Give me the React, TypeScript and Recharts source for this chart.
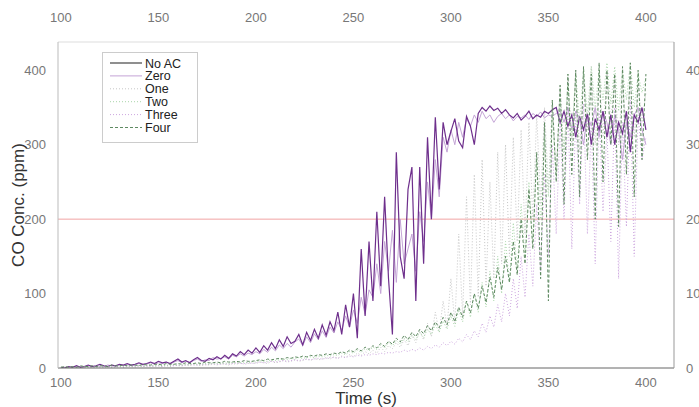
import React from 'react';
import { LineChart, Line, XAxis, YAxis, ReferenceLine, Legend } from 'recharts';

// sample times, 2 s apart, 100..400 s
const TIME = Array.from({ length: 151 }, (_, i) => 100 + 2 * i);
const X_TICKS = [100, 150, 200, 250, 300, 350, 400];
const Y_TICKS = [0, 100, 200, 300, 400];

const NO_AC = [
  1, 0, 2, 1, 3, 1, 2, 4, 2, 3, 5, 3, 2, 4, 3, 5, 4, 6, 4, 5, 7, 5, 6, 8, 6,
  9, 7, 8, 6, 9, 12, 8, 10, 7, 11, 14, 10, 9, 13, 11, 15, 12, 17, 13, 19, 16, 22, 18, 24, 20,
  27, 21, 30, 24, 34, 26, 38, 29, 42, 33, 36, 45, 31, 48, 37, 52, 40, 58, 44, 62,
  50, 75, 45, 85, 55, 100, 40, 160, 70, 170,
  90, 210, 110, 230, 120, 45, 290, 150, 120, 240, 270, 90, 270, 140, 310, 200, 337, 240, 330, 300,
  318, 335, 305, 296, 338, 325, 300, 342, 350, 345, 352, 346, 349, 342, 347, 340, 336, 342, 333, 338, 345, 335, 340, 337, 345, 342, 347, 350,
  330, 345, 325, 340, 310, 338, 320, 342, 300, 335, 320, 345, 310, 340, 300, 330, 315, 345, 290, 340, 330, 350, 320,
];

const ZERO = [
  0, 1, 0, 2, 1, 2, 1, 3, 2, 2, 3, 2, 4, 3, 2, 4, 3, 5, 3, 4, 6, 4, 5, 7, 5,
  7, 6, 8, 5, 8, 10, 7, 9, 8, 10, 12, 9, 11, 10, 14, 12, 13, 15, 12, 17, 15, 19, 16, 20, 18,
  22, 19, 25, 21, 28, 23, 31, 26, 33, 28, 35, 39, 30, 42, 34, 46, 38, 50, 41, 55,
  47, 62, 51, 70, 55, 78, 60, 95, 72, 105,
  95, 140, 100, 170, 130, 185, 115, 200, 140, 160, 180, 130, 210, 170, 250, 200, 280, 230, 310, 290,
  320, 300, 330, 310, 335, 325, 340, 330, 345, 335, 340, 330, 338, 342, 335, 340, 332, 338, 336, 340, 334, 342, 338, 344, 336, 340, 338, 342,
  345, 330, 350, 320, 345, 335, 300, 340, 325, 350, 310, 345, 330, 300, 340, 320, 280, 330, 310, 340, 350, 320, 300,
];

const ONE = [
  0, 0, 1, 0, 1, 0, 1, 1, 0, 1, 2, 1, 1, 2, 1, 2, 1, 2, 2, 1, 3, 2, 2, 3, 2,
  3, 2, 3, 2, 4, 3, 3, 4, 3, 5, 4, 3, 5, 4, 5, 4, 6, 5, 4, 6, 5, 7, 5, 6, 7,
  6, 8, 7, 6, 9, 7, 8, 10, 8, 9, 11, 9, 10, 12, 10, 13, 11, 12, 14, 12,
  15, 13, 16, 14, 18, 15, 20, 17, 22, 19,
  24, 20, 28, 22, 30, 26, 34, 28, 38, 30, 44, 34, 50, 38, 60, 42, 75, 48, 90, 55,
  120, 60, 180, 70, 230, 85, 260, 95, 280, 110, 250, 120, 290, 140, 300, 150, 310, 170, 320, 180, 330, 200, 340, 220, 350, 240, 360, 260,
  380, 280, 390, 300, 400, 290, 395, 320, 405, 300, 400, 310, 395, 330, 390, 300, 385, 320, 390, 310, 380, 330, 370,
];

const TWO = [
  1, 0, 1, 1, 0, 1, 2, 1, 1, 2, 1, 2, 2, 1, 3, 2, 2, 3, 2, 3, 3, 2, 4, 3, 3,
  4, 3, 4, 3, 5, 4, 4, 5, 4, 6, 5, 5, 6, 5, 7, 6, 6, 7, 6, 8, 7, 7, 8, 7, 9,
  8, 10, 9, 9, 11, 10, 11, 12, 11, 13, 12, 14, 13, 14, 15, 14, 16, 15, 17, 16,
  18, 17, 20, 18, 22, 20, 24, 21, 26, 23,
  28, 25, 31, 27, 34, 30, 37, 32, 40, 35, 44, 38, 48, 41, 52, 45, 58, 48, 63, 52,
  70, 56, 78, 62, 90, 68, 100, 75, 115, 82, 130, 90, 150, 100, 170, 115, 195, 130, 220, 150, 250, 170, 280, 200, 310, 230, 340, 260,
  360, 290, 380, 310, 395, 330, 400, 340, 405, 350, 400, 360, 410, 355, 405, 345, 400, 360, 410, 350, 395, 370, 390,
];

const THREE = [
  0, 1, 0, 1, 1, 0, 1, 2, 1, 1, 2, 1, 2, 1, 2, 2, 1, 3, 2, 2, 3, 2, 3, 2, 3,
  3, 2, 4, 3, 3, 4, 3, 4, 5, 4, 4, 5, 4, 5, 6, 5, 5, 6, 5, 6, 7, 6, 6, 7, 6,
  7, 8, 7, 8, 9, 8, 9, 10, 9, 10, 11, 10, 11, 12, 11, 12, 13, 12, 13, 14,
  14, 13, 15, 14, 16, 15, 17, 16, 18, 17,
  19, 18, 20, 19, 21, 20, 22, 21, 24, 22, 25, 23, 27, 24, 29, 26, 31, 28, 34, 30,
  36, 32, 40, 35, 45, 38, 50, 42, 60, 48, 70, 55, 85, 62, 100, 70, 120, 80, 150, 95, 180, 110, 220, 130, 260, 150, 300, 180,
  330, 200, 350, 160, 340, 220, 355, 180, 330, 140, 345, 210, 320, 170, 350, 120, 330, 190, 360, 150, 340, 280, 310,
];

const FOUR = [
  1, 2, 1, 2, 1, 3, 2, 2, 3, 2, 3, 3, 2, 4, 3, 3, 4, 3, 4, 4, 3, 5, 4, 4, 5,
  5, 4, 6, 5, 5, 6, 5, 7, 6, 6, 7, 6, 8, 7, 7, 8, 7, 9, 8, 8, 9, 8, 10, 9, 9,
  10, 11, 10, 12, 11, 12, 13, 12, 14, 13, 15, 14, 16, 15, 17, 16, 18, 17, 19, 18,
  20, 19, 22, 20, 24, 22, 26, 23, 28, 25,
  30, 27, 33, 29, 36, 32, 40, 35, 44, 38, 48, 42, 52, 46, 57, 50, 62, 54, 68, 58,
  75, 62, 82, 68, 90, 74, 100, 80, 110, 88, 122, 95, 135, 105, 150, 115, 170, 125, 200, 140, 240, 160, 290, 120, 330, 90, 360, 250,
  380, 220, 395, 260, 400, 230, 405, 280, 395, 200, 410, 250, 400, 300, 395, 190, 405, 260, 410, 230, 400, 280, 395,
];

const SERIES = [
  { key: 'noAc', name: 'No AC', color: '#6e2f8c', dash: undefined, width: 1.2 },
  { key: 'zero', name: 'Zero', color: '#c4a4d6', dash: undefined, width: 1 },
  { key: 'one', name: 'One', color: '#c6c6c6', dash: '1 2', width: 1 },
  { key: 'two', name: 'Two', color: '#a9d6a9', dash: '1 2', width: 1 },
  { key: 'three', name: 'Three', color: '#cda6df', dash: '1 2', width: 1 },
  { key: 'four', name: 'Four', color: '#5f8a62', dash: '3 2', width: 1 },
];

const data = TIME.map((t, i) => ({
  t,
  noAc: NO_AC[i],
  zero: ZERO[i],
  one: ONE[i],
  two: TWO[i],
  three: THREE[i],
  four: FOUR[i],
}));

// draw order (light ones underneath)
const DRAW_ORDER = ['one', 'three', 'zero', 'noAc', 'two', 'four'];

const FONT = '"Liberation Sans", Arial, sans-serif';
const tickStyle = { fill: '#777', fontSize: 13, fontFamily: FONT };

function LegendBox() {
  return (
    <svg width={96} height={91}>
      <rect x={0.5} y={0.5} width={95} height={90} fill="#fff" stroke="#ccc" />
      {SERIES.map((s, i) => {
        const y = 11 + i * 12.9;
        return (
          <g key={s.key}>
            <line x1={8} x2={40} y1={y} y2={y} stroke={s.key === 'noAc' ? '#444' : s.color}
              strokeWidth={s.width} strokeDasharray={s.dash} />
            <text x={43} y={y + 4.5} fontSize={12.5} fontFamily={FONT} fill="#222">{s.name}</text>
          </g>
        );
      })}
    </svg>
  );
}

export default function App() {
  return (
    <div style={{ position: 'absolute', left: 0, top: 0, width: 699, height: 407, overflow: 'hidden', background: '#fff' }}>
      <LineChart width={730} height={407} data={data} margin={{ top: 0, right: 0, bottom: 0, left: 0 }}>
        <XAxis
          xAxisId="bottom"
          dataKey="t"
          type="number"
          domain={[98.5, 414.4]}
          ticks={X_TICKS}
          allowDataOverflow
          height={39}
          tickLine={false}
          tickMargin={4}
          axisLine={{ stroke: '#666' }}
          tick={tickStyle}
          label={{ value: 'Time (s)', position: 'insideBottom', offset: 3, style: { fill: '#333', fontSize: 17, fontFamily: FONT } }}
        />
        <XAxis
          xAxisId="top"
          orientation="top"
          dataKey="t"
          type="number"
          domain={[98.5, 414.4]}
          ticks={X_TICKS}
          allowDataOverflow
          height={42}
          tickLine={false}
          tickMargin={14}
          axisLine={{ stroke: '#ddd' }}
          tick={tickStyle}
        />
        <YAxis
          yAxisId="left"
          domain={[0, 438]}
          ticks={Y_TICKS}
          allowDataOverflow
          width={58}
          tickLine={false}
          tickMargin={6}
          axisLine={{ stroke: '#bbb' }}
          tick={tickStyle}
          label={{ value: 'CO Conc. (ppm)', angle: -90, position: 'insideLeft', offset: 18, style: { fill: '#333', fontSize: 17, fontFamily: FONT, textAnchor: 'middle' } }}
        />
        <YAxis
          yAxisId="right"
          orientation="right"
          domain={[0, 438]}
          ticks={Y_TICKS}
          allowDataOverflow
          width={56}
          tickLine={false}
          tickMargin={6}
          axisLine={{ stroke: '#999' }}
          tick={tickStyle}
        />
        <ReferenceLine xAxisId="bottom" yAxisId="left" y={200} stroke="#f2a4a4" strokeWidth={1} />
        {DRAW_ORDER.map((k) => {
          const s = SERIES.find((x) => x.key === k)!;
          return (
            <Line
              key={s.key}
              xAxisId="bottom"
              yAxisId="left"
              type="linear"
              dataKey={s.key}
              name={s.name}
              stroke={s.color}
              strokeWidth={s.width}
              strokeDasharray={s.dash}
              dot={false}
              activeDot={false}
              isAnimationActive={false}
            />
          );
        })}
        <Legend
          layout="vertical"
          align="center"
          verticalAlign="middle"
          content={() => <LegendBox />}
          wrapperStyle={{ left: 102, top: 52, width: 96, height: 91 }}
        />
      </LineChart>
    </div>
  );
}
